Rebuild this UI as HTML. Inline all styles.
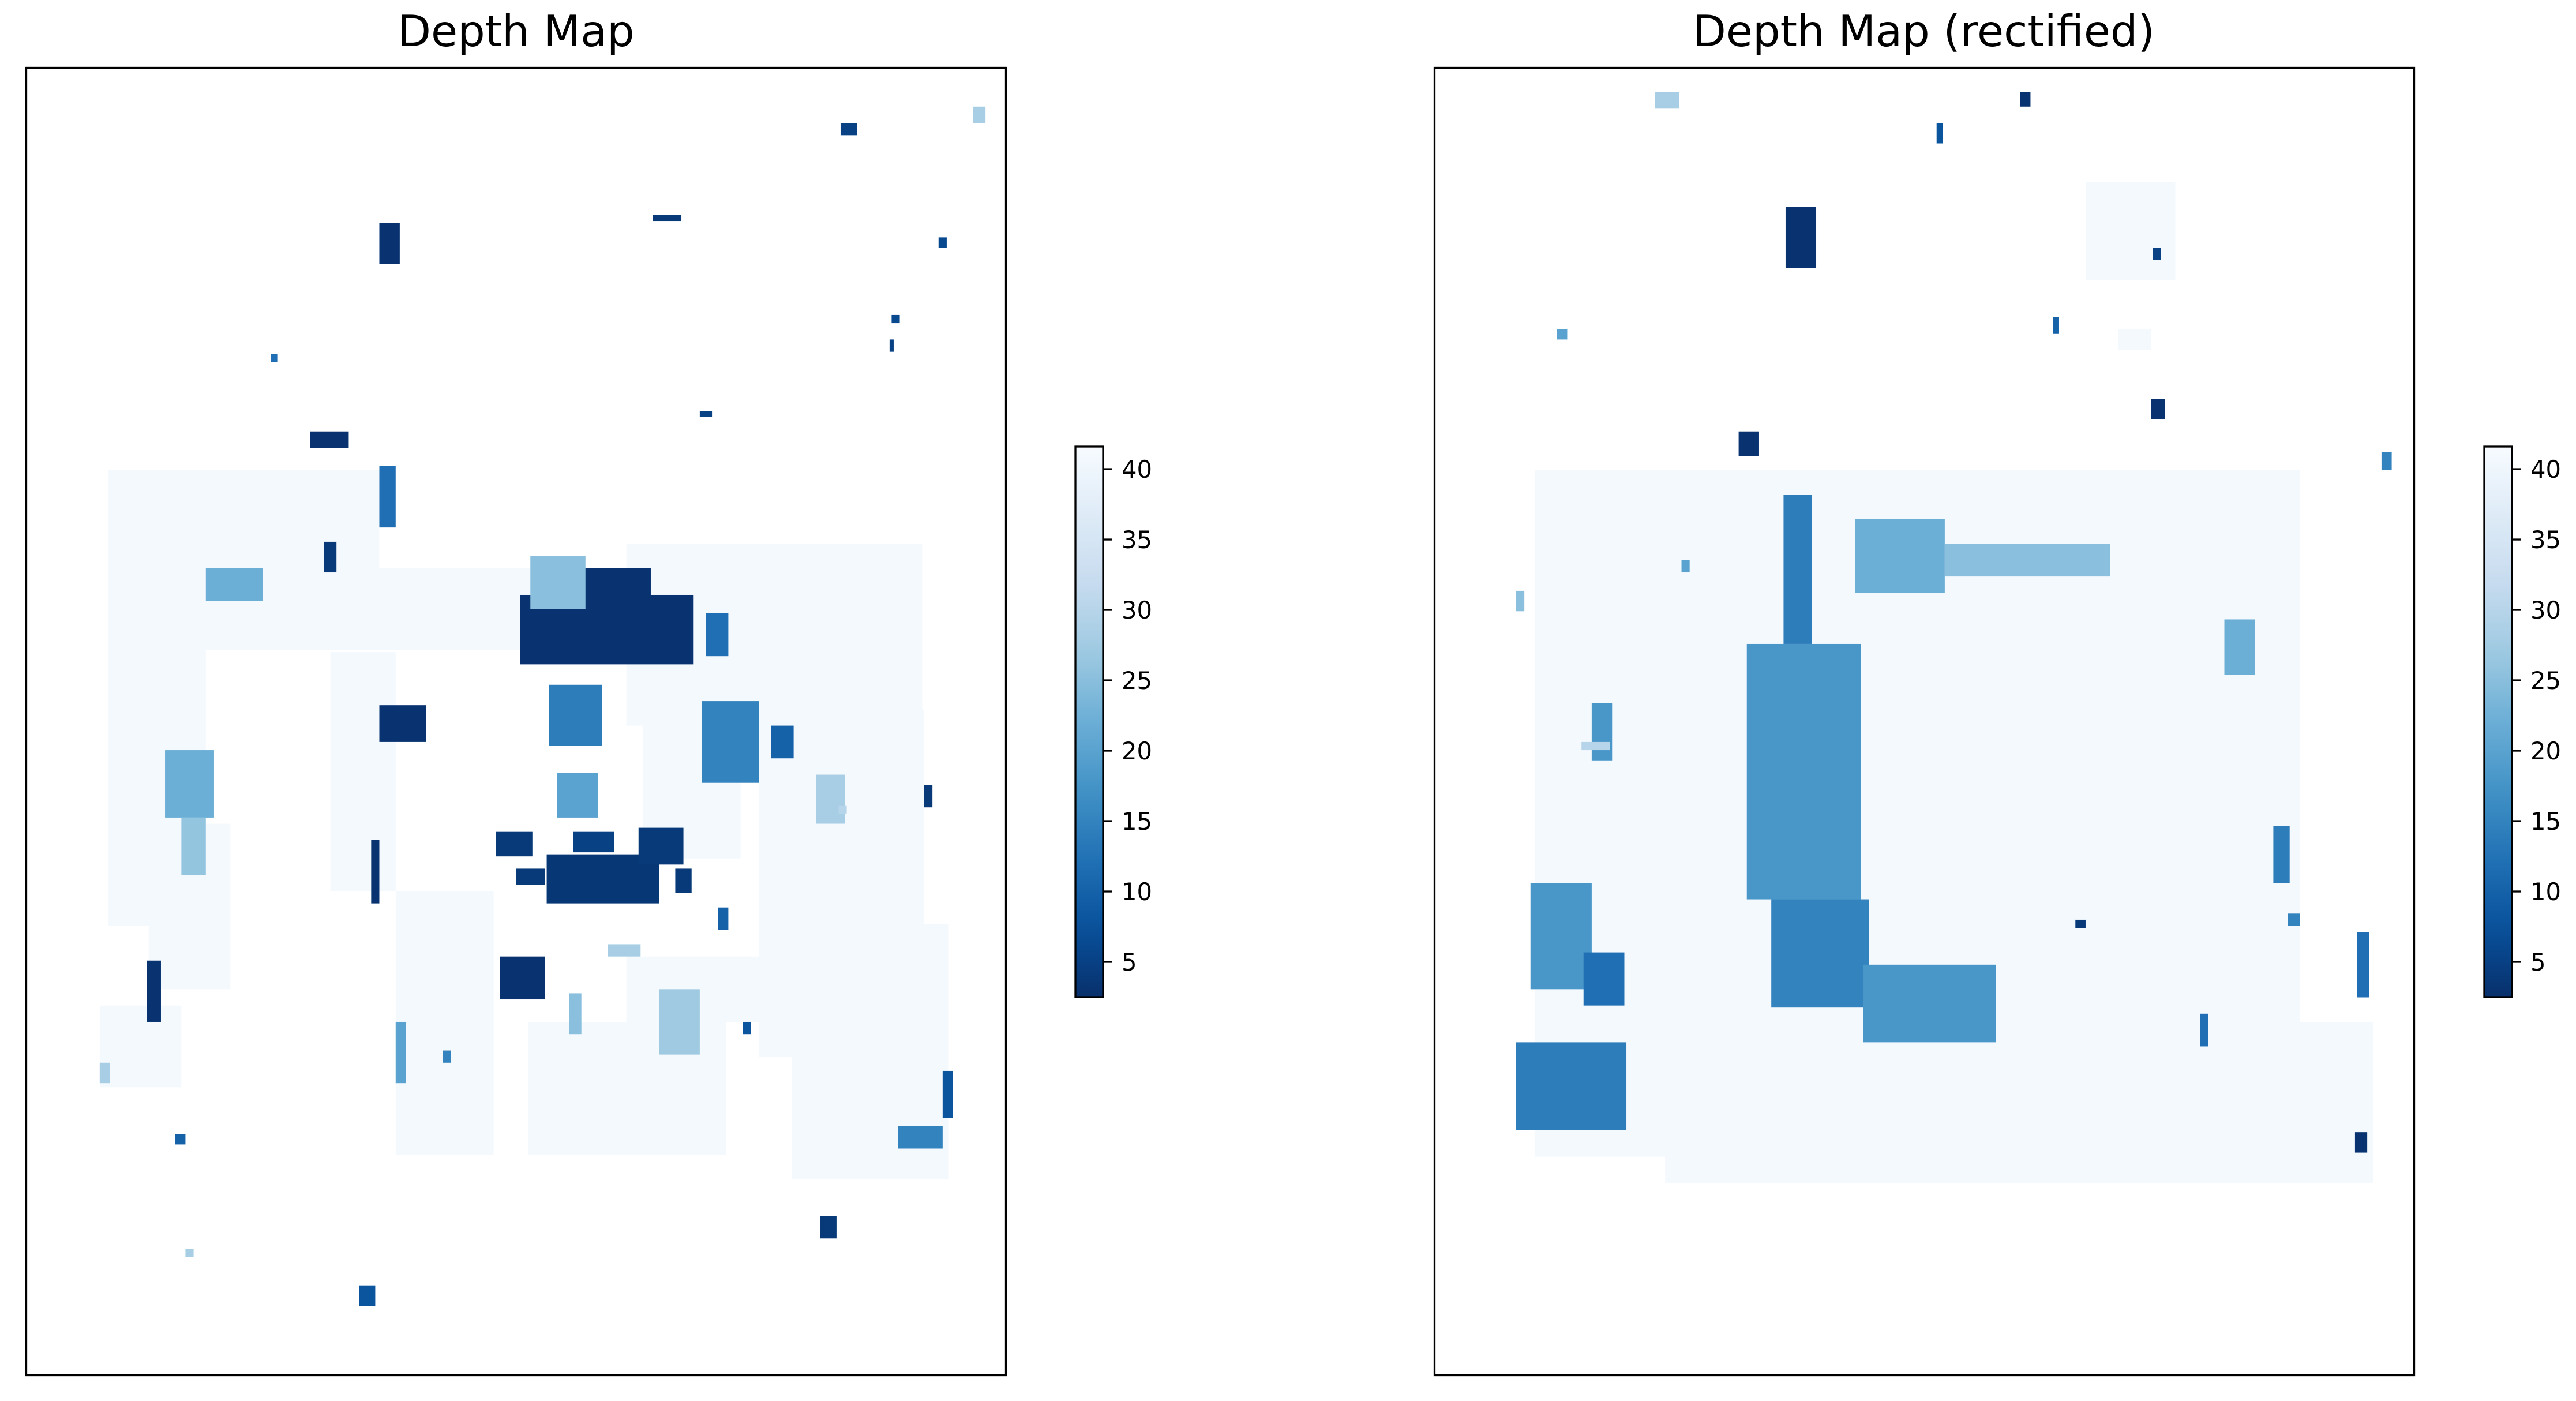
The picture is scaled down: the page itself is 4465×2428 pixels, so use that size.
<!DOCTYPE html>
<html><head><meta charset="utf-8"><title>Depth Map</title>
<style>
html,body{margin:0;padding:0;background:#fff;}
svg{display:block;font-family:"DejaVu Sans","Liberation Sans",sans-serif;}
</style></head>
<body>
<svg id="fig" width="4465" height="2428" viewBox="0 0 4465 2428" xmlns="http://www.w3.org/2000/svg">
<defs><linearGradient id="cbgrad" x1="0" y1="1" x2="0" y2="0"></linearGradient></defs>
<text x="894.5" y="80" font-size="75" text-anchor="middle">Depth Map</text>
<text x="3334.5" y="80" font-size="75" text-anchor="middle">Depth Map (rectified)</text>
<g id="left-img"></g>
<g id="right-img"></g>
<rect x="45.5" y="117.5" width="1698" height="2266" fill="none" stroke="#000" stroke-width="3.3"/>
<rect x="2486.5" y="117.5" width="1698" height="2266" fill="none" stroke="#000" stroke-width="3.3"/>
<g id="left-cb"></g>
<g id="right-cb"></g>
</svg>
<script>
// colour scale
const vmin = 2.5, vmax = 41.6;
const cbTicks = [5, 10, 15, 20, 25, 30, 35, 40];
const imgW = 480, imgH = 640;
// depth-map regions: [x, y, w, h, depth] in image pixels
const leftLight = [
 [40,197,48,223,41],[84,197,89,48,41],[84,245,283,40,41],[149,286,32,117,41],
 [294,233,145,89,41],[302,314,48,73,41],[359,314,81,170,41],[181,403,48,129,41],
 [246,467,97,65,41],[375,419,77,125,41],[36,459,40,40,41],[60,370,40,81,41],[294,435,73,32,41]
];
const leftBlobs = [
 [242,258,85,34,3],[258,245,48,17,3],[255,385,55,24,3.5],[230,374,18,12,4],[300,372,22,18,4],
 [240,392,14,8,4],[318,392,8,12,4],[268,374,20,10,5],
 [232,435,22,21,3],[139,178,19,8,3],
 [173,76,10,20,3],[173,312,23,18,3],[169,378,4,31,3],[59,437,7,30,3],[146,232,6,15,4],
 [399,27,8,6,5],[389,562,8,11,4],[449,491,5,23,8],[163,596,8,10,8],[307,72,14,3,4],
 [330,168,6,3,5],[440,351,4,11,4],[447,83,4,5,6],[424,121,4,4,6],[423,133,2,6,5],
 [247,239,27,26,25],[256,302,26,30,14],[260,345,20,22,20],[331,310,28,40,15],[333,267,11,21,12],
 [68,334,24,33,22],[76,367,12,28,26],[88,245,28,16,22],[387,346,14,24,28],[310,451,20,32,27],
 [427,518,22,11,15],[173,195,8,30,12],[365,322,11,16,10],[285,429,16,6,28],[36,487,5,10,28],
 [464,19,6,8,28],[266,453,6,20,25],[181,467,5,30,20],[339,411,5,11,10],[351,467,4,6,8],
 [204,481,4,6,15],[73,522,5,5,10],[78,578,4,4,28],[120,140,3,4,12],[398,361,4,4,30]
];
const rightLight = [
 [49,197,375,336,41],[113,467,347,79,41],[319,56,44,48,41],[335,128,16,10,41]
];
const rightBlobs = [
 [171,209,14,73,14],[153,282,56,125,18],[165,407,48,53,15],[210,439,65,38,18],[206,221,44,36,22],
 [250,233,81,16,25],[47,399,30,52,18],[73,433,20,26,12],[40,477,54,43,14],[387,270,15,27,22],
 [77,311,10,28,18],[452,423,6,32,12],[411,371,8,28,14],[464,188,5,9,15],[108,12,12,8,28],
 [172,68,15,30,3],[149,178,10,12,3],[351,162,7,10,3],[287,12,5,7,3],[451,521,6,10,3],
 [314,417,5,4,4],[246,27,3,10,8],[303,122,3,8,10],[121,241,4,6,20],[375,463,4,16,12],
 [418,414,6,6,15],[40,256,4,10,25],[352,88,4,6,5],[72,330,14,4,30],[60,128,5,5,20]
];

const stops = ["#f7fbff","#deebf7","#c6dbef","#9ecae1","#6baed6","#4292c6","#2171b5","#08519c","#08306b"];
function hex(c){return [1,3,5].map(i=>parseInt(c.substr(i,2),16));}
function blues(t){
  t=Math.max(0,Math.min(1,t)); const p=t*8, i=Math.min(7,Math.floor(p)), f=p-i;
  const a=hex(stops[i]), b=hex(stops[i+1]);
  return "rgb("+a.map((v,k)=>Math.round(v+(b[k]-v)*f)).join(",")+")";
}
function colorOf(v){return blues(1-(v-vmin)/(vmax-vmin));}
const NS="http://www.w3.org/2000/svg";
const axH=2266, axW=1698, axY=117.5;
function sx(x0,x){return x0+x*axW/imgW;}
function sy(y){return axY+y*axH/imgH;}
function drawRegions(gid,x0,arr,name){
  const g=document.getElementById(gid);
  arr.forEach(r=>{
    const el=document.createElementNS(NS,"rect");
    el.setAttribute("x",sx(x0,r[0]));el.setAttribute("y",sy(r[1]));
    el.setAttribute("width",r[2]*axW/imgW);el.setAttribute("height",r[3]*axH/imgH);
    el.setAttribute("fill",colorOf(r[4]));
    
    
    g.appendChild(el);
  });
}
drawRegions("left-img",45.5,leftLight,"left-depth-region");
drawRegions("left-img",45.5,leftBlobs,"left-depth-blob");
drawRegions("right-img",2486.5,rightLight,"right-depth-region");
drawRegions("right-img",2486.5,rightBlobs,"right-depth-blob");

// colorbar gradient
const grad=document.getElementById("cbgrad");
for(let i=0;i<=20;i++){
  const s=document.createElementNS(NS,"stop");
  s.setAttribute("offset",i/20);s.setAttribute("stop-color",blues(1-i/20));
  grad.appendChild(s);
}
const cbTop=774, cbBot=1728;
function cy(v){return cbBot-(v-vmin)/(vmax-vmin)*(cbBot-cbTop);}
function drawCb(gid,x,side){
  const g=document.getElementById(gid);
  const r=document.createElementNS(NS,"rect");
  r.setAttribute("x",x);r.setAttribute("y",cbTop);r.setAttribute("width",48);r.setAttribute("height",cbBot-cbTop);
  r.setAttribute("fill","url(#cbgrad)");r.setAttribute("stroke","#000");r.setAttribute("stroke-width","3.3");
  
  
  g.appendChild(r);
  cbTicks.forEach(v=>{
    const l=document.createElementNS(NS,"line");
    l.setAttribute("x1",x+48);l.setAttribute("x2",x+63);l.setAttribute("y1",cy(v));l.setAttribute("y2",cy(v));
    l.setAttribute("stroke","#000");l.setAttribute("stroke-width","3.3");
    
    
    g.appendChild(l);
    const t=document.createElementNS(NS,"text");
    t.setAttribute("x",x+80);t.setAttribute("y",cy(v)+15);t.setAttribute("font-size","41.7");
    t.textContent=v;
    
    
    g.appendChild(t);
  });
}
drawCb("left-cb",1864,"left");
drawCb("right-cb",4306,"right");
</script>
</body></html>
